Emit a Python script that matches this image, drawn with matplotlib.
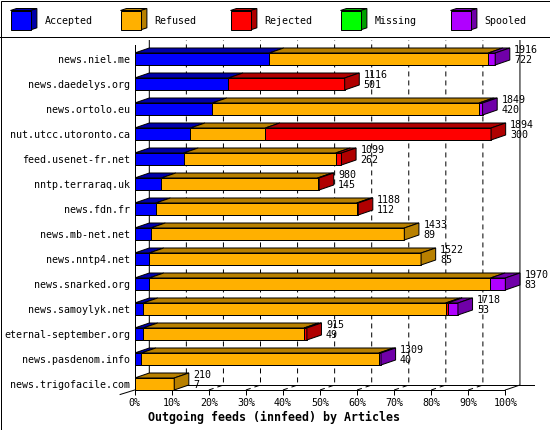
import numpy as np
import matplotlib
matplotlib.use('Agg')
import matplotlib.pyplot as plt
from matplotlib.patches import Polygon, Rectangle

plt.rcParams['font.family'] = ['DejaVu Sans Mono', 'DejaVu Sans']

hosts = ['news.niel.me', 'news.daedelys.org', 'news.ortolo.eu', 'nut.utcc.utoronto.ca',
         'feed.usenet-fr.net', 'nntp.terraraq.uk', 'news.fdn.fr', 'news.mb-net.net',
         'news.nntp4.net', 'news.snarked.org', 'news.samoylyk.net', 'eternal-september.org',
         'news.pasdenom.info', 'news.trigofacile.com']
totals = [1916, 1116, 1849, 1894, 1099, 980, 1188, 1433, 1522, 1970, 1718, 915, 1309, 210]
second = [722, 501, 420, 300, 262, 145, 112, 89, 85, 83, 53, 49, 40, 7]
accepted = [715, 498, 412, 296, 260, 141, 112, 85, 77, 77, 45, 45, 35, 0]
refused = [1164, 0, 1418, 398, 808, 831, 1068, 1348, 1445, 1814, 1608, 855, 1263, 210]
rejected = [0, 618, 0, 1200, 31, 8, 8, 0, 0, 0, 10, 15, 0, 0]
missing = [0, 0, 0, 0, 0, 0, 0, 0, 0, 0, 0, 0, 0, 0]
spooled = [37, 0, 19, 0, 0, 0, 0, 0, 0, 79, 55, 0, 11, 0]

series = ['Accepted', 'Refused', 'Rejected', 'Missing', 'Spooled']
front_col = ['#0000ff', '#ffb000', '#ff0000', '#00ff00', '#b000ff']
dark_col = ['#0000aa', '#b88000', '#b00000', '#00a000', '#7000a8']
xticks = [0, 10, 20, 30, 40, 50, 60, 70, 80, 90, 100]

DX = 3.94   # depth in x (percent units)
DY = 0.2    # depth in y (row units)
BH = 0.48   # bar front height
LW = 0.72

fig = plt.figure(figsize=(5.5, 4.3), dpi=100)

# frame, legend
bg = fig.add_axes([0, 0, 1, 1])
bg.set_xlim(0, 550)
bg.set_ylim(430, 0)
bg.axis('off')
bg.add_patch(Rectangle((0.5, 0.5), 549, 429, fill=False, lw=LW, ec='k'))
bg.plot([0, 550], [36.5, 36.5], color='k', lw=LW)
for i, name in enumerate(series):
    x0 = 10.5 + 110 * i
    bg.add_patch(Polygon([(x0, 10.5), (x0 + 6, 8.5), (x0 + 26.4, 8.5), (x0 + 20.4, 10.5)],
                         fc=dark_col[i], ec='k', lw=LW))
    bg.add_patch(Polygon([(x0 + 20.4, 10.5), (x0 + 26.4, 8.5), (x0 + 26.4, 27.8), (x0 + 20.4, 29.8)],
                         fc=dark_col[i], ec='k', lw=LW))
    bg.add_patch(Rectangle((x0, 10.5), 20.4, 19.3, fc=front_col[i], ec='k', lw=LW))
    bg.text(x0 + 34, 20.5, name, ha='left', va='center', fontsize=7.2)

ax = fig.add_axes([134.7 / 550, 40 / 430, 400.3 / 550, 350 / 430])
ax.patch.set_visible(False)
ax.set_xlim(0, 108)
ax.set_ylim(0, 14)
for s in ax.spines.values():
    s.set_visible(False)

# back wall grid
for t in xticks:
    style = '-' if t in (0, 100) else (0, (5, 4))
    ax.plot([t, t + DX, t + DX], [0, DY, 14], color='k', lw=LW, ls=style, zorder=1)
ax.plot([DX, 108], [DY, DY], color='k', lw=LW, zorder=1)
ax.plot([0, 100], [0, 0], color='k', lw=LW, zorder=1, clip_on=False)
ax.plot([-DX, 0], [-0.18, 0], color='k', lw=LW, zorder=1, clip_on=False)
ax.plot([0, 0], [0, 13.8], color='k', lw=LW, zorder=1)

vmax = max(totals)
n = len(hosts)
for r in range(n):
    y0 = n - 1 - r
    y1 = y0 + BH
    vals = [accepted[r], refused[r], rejected[r], missing[r], spooled[r]]
    left = 0.0
    last = None
    for j, v in enumerate(vals):
        if v <= 0:
            continue
        w = v / vmax * 100
        right = left + w
        ax.add_patch(Polygon([(left, y1), (left + DX, y1 + DY), (right + DX, y1 + DY), (right, y1)],
                             fc=dark_col[j], ec='k', lw=LW, zorder=3))
        ax.add_patch(Rectangle((left, y0), w, BH, fc=front_col[j], ec='k', lw=LW, zorder=3))
        left = right
        last = j
    ax.add_patch(Polygon([(left, y0), (left + DX, y0 + DY), (left + DX, y1 + DY), (left, y1)],
                         fc=dark_col[last], ec='k', lw=LW, zorder=3))
    tx = left + DX + 1.2
    yc = y0 + BH / 2
    ax.text(tx, yc + 0.37, str(totals[r]), ha='left', va='center', fontsize=7.2, zorder=4)
    ax.text(tx, yc - 0.05, str(second[r]), ha='left', va='center', fontsize=7.2, zorder=4)

ax.set_yticks([n - 1 - r + BH / 2 for r in range(n)])
ax.set_yticklabels(hosts, fontsize=7.2)
ax.tick_params(axis='y', length=0, pad=3.4)
ax.set_xticks(xticks)
ax.set_xticklabels([f'{t}%' for t in xticks], fontsize=7.2)
ax.tick_params(axis='x', length=3.6, width=LW, direction='out', pad=2)

fig.text(274.5 / 550, 1 - 417 / 430, 'Outgoing feeds (innfeed) by Articles',
         ha='center', va='center', fontsize=8.4, fontweight='bold')

fig.savefig('out.png', dpi=100)
